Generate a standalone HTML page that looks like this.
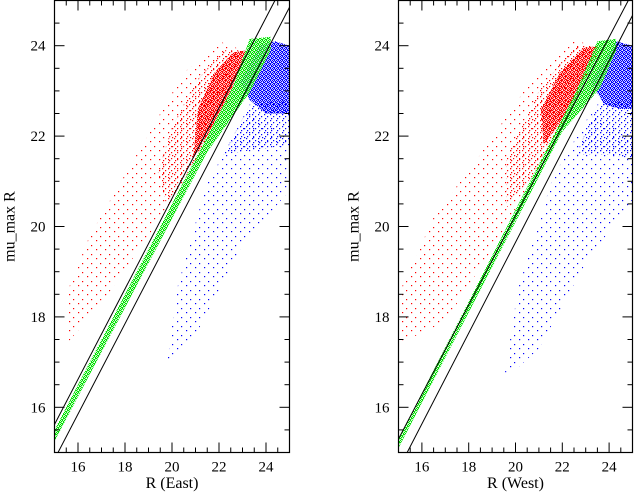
<!DOCTYPE html>
<html><head><meta charset="utf-8"><style>
html,body{margin:0;padding:0;background:#fff;}
svg{display:block;font-family:"Liberation Serif",serif;}
</style></head><body>
<svg id="chart" width="634" height="492" viewBox="0 0 634 492" xmlns="http://www.w3.org/2000/svg">
<defs></defs>
</svg>
<script>
// ---- data (data coordinates: R, mu_max R) ----
const xTicks = [16, 18, 20, 22, 24];
const yTicks = [16, 18, 20, 22, 24];
const panelTitles = ["R (East)", "R (West)"];
// boundary lines: [R1, mu1, R2, mu2]
const eastLines = [[15, 15.62, 24.38, 25], [15.15, 15, 25, 24.85]];
const westLines = [[15, 15.3, 24.82, 25], [15.37, 15, 25, 24.67]];
// East clouds
const eastRedSparse = [[15.5,17.4],[17,18.3],[19,19.8],[21,21.4],[22.5,22.9],[23,23.9],[22,24.1],[20.5,23.4],[18.5,21.6],[16.5,19.8],[15.5,18.5]];
const eastRedMedium = [[19.8,20.4],[21,21.5],[22.3,22.8],[23,23.9],[22.2,23.9],[21,23.2],[20,22.2],[19.4,21.2]];
const eastRedDense = [[20.9,21.5],[21.6,22.1],[22.5,23.0],[23.2,23.9],[22.6,23.85],[21.8,23.4],[21.1,22.6]];
const eastGreen = [[15,15.25],[21.5,21.65],[23.35,23.0],[24.2,23.9],[24.2,24.2],[23.3,24.15],[22.6,23.1],[15,15.5]];
const eastBlueSparse = [[19.8,17],[21,17.6],[23,19.6],[25,20.8],[25,22],[23.3,22.5],[21.5,21],[20.2,18.6]];
const eastBlueMedium = [[22.2,21.6],[23.5,21.7],[25,21.8],[25,22.8],[23.3,22.7]];
const eastBlueDense = [[22.9,23.2],[23.3,22.8],[24,22.5],[25,22.5],[25,24],[24.4,24.1],[23.7,24.0]];
// West clouds
const westRedSparse = [[15,17.4],[17,17.9],[19,19.5],[21,21.3],[22.8,23.1],[23.7,24],[22.5,24.1],[20.5,23.1],[18.5,21.6],[16.5,20.2],[15,18.5]];
const westRedMedium = [[19.6,20.4],[21,21.3],[22.5,22.7],[23.5,24],[22.5,24],[21,23],[19.6,21.5]];
const westRedDense = [[21.2,21.8],[22.3,22.6],[23.6,24],[22.9,23.95],[21.9,23.4],[21.1,22.6]];
const westGreen = [[15,15.1],[22,22.1],[23.6,23.05],[24.3,23.9],[24.3,24.15],[23.5,24.1],[22.6,23.0],[15,15.3]];
const westBlueSparse = [[19.5,16.6],[21,17.3],[23,19.2],[25,20.6],[25,22],[23.2,22.5],[21.6,21.1],[20.1,18.6]];
const westBlueMedium = [[22.6,21.6],[24,21.6],[25,21.5],[25,22.8],[23.5,22.7]];
const westBlueDense = [[23.2,23.2],[23.8,22.7],[24.5,22.6],[25,22.6],[25,24],[24.3,24.1]];

const NS = "http://www.w3.org/2000/svg";
const svg = document.getElementById("chart");
const defs = svg.querySelector("defs");

const patternDefs = {
  sparse: {size: 9, dots: [[1,2],[6,6]]},
  light: {size: 6, dots: [[0,0],[3,2],[1,4]]},
  medium: {size: 5, dots: [[0,0],[3,1],[1,3],[4,4]]},
  dense: {size: 4, dots: [[0,0],[2,0],[1,1],[3,1],[0,2],[2,3],[3,2],[1,3]]}
};
const colors = {red: "#ff0000", green: "#00e000", blue: "#0000ff"};
for (const c in colors) {
  for (const d in patternDefs) {
    const p = document.createElementNS(NS, "pattern");
    p.setAttribute("id", "pat-" + c + "-" + d);
    p.setAttribute("width", patternDefs[d].size);
    p.setAttribute("height", patternDefs[d].size);
    p.setAttribute("patternUnits", "userSpaceOnUse");
    patternDefs[d].dots.forEach(([x, y]) => {
      const r = document.createElementNS(NS, "rect");
      r.setAttribute("x", x); r.setAttribute("y", y);
      r.setAttribute("width", 1.2); r.setAttribute("height", 1.2);
      r.setAttribute("fill", colors[c]);
      r.setAttribute("style", "fill:" + colors[c]);
      p.appendChild(r);
    });
    defs.appendChild(p);
  }
}

function mk(tag, attrs, parent) {
  const e = document.createElementNS(NS, tag);
  for (const k in attrs) e.setAttribute(k, attrs[k]);
  (parent || svg).appendChild(e);
  return e;
}

function drawPanel(cfg) {
  const {x0, x1, y0, y1} = cfg;
  const xs = v => x0 + (v - 15) / 10 * (x1 - x0);
  const ys = v => y1 - (v - 15) / 10 * (y1 - y0);
  const g = mk("g", {});
  
  
  const clipId = "clip-" + cfg.name;
  const cp = mk("clipPath", {id: clipId}, defs);
  mk("rect", {x: x0, y: y0, width: x1 - x0, height: y1 - y0}, cp);
  const plot = mk("g", {"clip-path": "url(#" + clipId + ")"}, g);

  cfg.clouds.forEach(([pts, color, dens, nm]) => {
    const pg = mk("polygon", {
      points: pts.map(p => xs(p[0]).toFixed(1) + "," + ys(p[1]).toFixed(1)).join(" "),
      fill: "url(#pat-" + color + "-" + dens + ")"
    }, plot);
    
    
  });
  cfg.lines.forEach((l, i) => {
    const ln = mk("line", {x1: xs(l[0]), y1: ys(l[1]), x2: xs(l[2]), y2: ys(l[3]), stroke: "#000", "stroke-width": 1}, plot);
    
    
  });
  const fr = mk("rect", {x: x0, y: y0, width: x1 - x0, height: y1 - y0, fill: "none", stroke: "#000", "stroke-width": 1.2}, g);
  
  

  for (let v = 15.5; v < 25; v += 0.5) {
    const major = Math.abs(v - Math.round(v)) < 1e-6 && Math.round(v) % 2 === 0;
    const L = major ? 10 : 5;
    const X = xs(v), Y = ys(v);
    mk("line", {x1: X, y1: y1, x2: X, y2: y1 - L, stroke: "#000"}, g);
    mk("line", {x1: X, y1: y0, x2: X, y2: y0 + L, stroke: "#000"}, g);
    mk("line", {x1: x0, y1: Y, x2: x0 + L, y2: Y, stroke: "#000"}, g);
    mk("line", {x1: x1, y1: Y, x2: x1 - L, y2: Y, stroke: "#000"}, g);
  }
  xTicks.forEach(v => {
    const t = mk("text", {x: xs(v), y: y1 + 19, "text-anchor": "middle", "font-size": 15}, g);
    t.textContent = v;
    
    
  });
  yTicks.forEach(v => {
    const t = mk("text", {x: x0 - 9, y: ys(v) + 5, "text-anchor": "end", "font-size": 15}, g);
    t.textContent = v;
    
    
  });
  const xt = mk("text", {x: (x0 + x1) / 2, y: 488, "text-anchor": "middle", "font-size": 16}, g);
  xt.textContent = cfg.title;
  
  
  const yt = mk("text", {x: 0, y: 0, "text-anchor": "middle", "font-size": 16, transform: "translate(" + (x0 - 40) + "," + (y1 + y0) / 2 + ") rotate(-90)"}, g);
  yt.textContent = "mu_max R";
  
  
}

drawPanel({name: "east-panel", x0: 54.5, x1: 289.5, y0: 0.5, y1: 452.5, title: panelTitles[0], lines: eastLines,
  clouds: [[eastRedSparse,"red","sparse","red-cloud-sparse"],[eastRedMedium,"red","light","red-cloud-medium"],[eastRedDense,"red","dense","red-cloud-core"],
           [eastBlueSparse,"blue","sparse","blue-cloud-sparse"],[eastBlueMedium,"blue","light","blue-cloud-medium"],[eastBlueDense,"blue","dense","blue-cloud-core"],
           [eastGreen,"green","dense","green-band"]]});
drawPanel({name: "west-panel", x0: 398.5, x1: 632.5, y0: 0.5, y1: 452.5, title: panelTitles[1], lines: westLines,
  clouds: [[westRedSparse,"red","sparse","red-cloud-sparse"],[westRedMedium,"red","light","red-cloud-medium"],[westRedDense,"red","dense","red-cloud-core"],
           [westBlueSparse,"blue","sparse","blue-cloud-sparse"],[westBlueMedium,"blue","light","blue-cloud-medium"],[westBlueDense,"blue","dense","blue-cloud-core"],
           [westGreen,"green","dense","green-band"]]});
</script>
</body></html>
